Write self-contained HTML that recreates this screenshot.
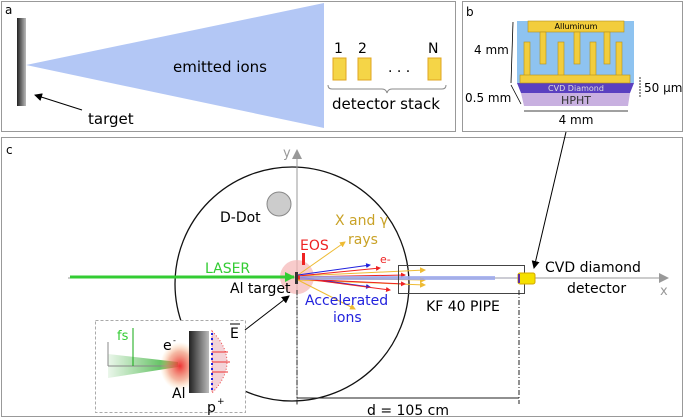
<!DOCTYPE html>
<html><head><style>body{margin:0;background:#fff}svg{display:block}text{font-family:"DejaVu Sans","Liberation Sans",sans-serif}</style></head><body>
<svg width="685" height="418" viewBox="0 0 685 418" xmlns="http://www.w3.org/2000/svg">
<defs>
<linearGradient id="tg" x1="0" x2="1"><stop offset="0" stop-color="#222"/><stop offset="1" stop-color="#bbb"/></linearGradient>
<linearGradient id="lg" x1="0" x2="1"><stop offset="0" stop-color="#3a3" stop-opacity=".1"/><stop offset="1" stop-color="#2a2" stop-opacity=".9"/></linearGradient>
<radialGradient id="pl"><stop offset="0" stop-color="#e33"/><stop offset=".6" stop-color="#e86" stop-opacity=".6"/><stop offset="1" stop-color="#fc8" stop-opacity="0"/></radialGradient>
<marker id="ah" markerWidth="8" markerHeight="8" refX="7" refY="4" orient="auto" markerUnits="userSpaceOnUse"><path d="M0,0L8,4L0,8z" fill="#000"/></marker>
<marker id="ag" markerWidth="10" markerHeight="10" refX="9" refY="5" orient="auto" markerUnits="userSpaceOnUse"><path d="M0,0L10,5L0,10z" fill="#999"/></marker>
<marker id="al" markerWidth="10" markerHeight="10" refX="9" refY="5" orient="auto" markerUnits="userSpaceOnUse"><path d="M0,0L10,5L0,10z" fill="#3c3"/></marker>
<marker id="ao" markerWidth="6" markerHeight="6" refX="5" refY="3" orient="auto" markerUnits="userSpaceOnUse"><path d="M0,0L6,3L0,6z" fill="#eb3"/></marker>
<marker id="ar" markerWidth="5" markerHeight="5" refX="4" refY="2.5" orient="auto" markerUnits="userSpaceOnUse"><path d="M0,0L5,2.5L0,5z" fill="#e22"/></marker>
<marker id="ab" markerWidth="5" markerHeight="5" refX="4" refY="2.5" orient="auto" markerUnits="userSpaceOnUse"><path d="M0,0L5,2.5L0,5z" fill="#22d"/></marker>
</defs>
<!-- panel a -->
<rect x="1.5" y="1.5" width="454" height="130" fill="none" stroke="#999"/>
<text x="5" y="14" font-size="12">a</text>
<polygon points="26,65 324,3 324,128" fill="#b3c7f5"/>
<rect x="17" y="18" width="9" height="88" fill="url(#tg)"/>
<text x="220" y="72" font-size="15" text-anchor="middle">emitted ions</text>
<line x1="82" y1="110" x2="35" y2="95" stroke="#000" marker-end="url(#ah)"/>
<text x="88" y="124" font-size="15">target</text>
<g fill="#f5d547" stroke="#e0a520"><rect x="333" y="58" width="13" height="22"/><rect x="358" y="58" width="13" height="22"/><rect x="428" y="58" width="13" height="22"/></g>
<g font-size="14"><text x="334" y="53">1</text><text x="358" y="53">2</text><text x="428" y="53">N</text><text x="388" y="72">. . .</text></g>
<path d="M328,85 q0,4 4,4 h50 q4,0 5,4 q1,-4 5,-4 h50 q4,0 4,-4" fill="none" stroke="#888"/>
<text x="386" y="109" font-size="15" text-anchor="middle">detector stack</text>
<!-- panel b -->
<rect x="462.5" y="1.5" width="220" height="130" fill="none" stroke="#999"/>
<text x="466" y="16" font-size="12">b</text>
<rect x="517" y="21" width="117" height="62" fill="#8ec3f0"/>
<polygon points="517,83 634,83 630,93 521,93" fill="#5a40c0"/>
<polygon points="521,93 630,93 628,106 524,106" fill="#c8b0e0"/>
<g fill="#f2cd3c" stroke="#b39019" stroke-width=".6">
<rect x="528" y="21" width="96" height="11"/>
<rect x="540" y="32" width="6" height="32"/><rect x="574" y="32" width="6" height="32"/><rect x="604" y="32" width="6" height="32"/>
<rect x="524" y="42" width="6" height="34"/><rect x="558" y="42" width="6" height="34"/><rect x="590" y="42" width="6" height="34"/><rect x="616" y="42" width="6" height="34"/>
<rect x="520" y="75" width="110" height="8"/>
</g>
<text x="576" y="29" font-size="8" text-anchor="middle">Alluminum</text>
<text x="576" y="91" font-size="8" fill="#ddd" text-anchor="middle">CVD Diamond</text>
<text x="576" y="104" font-size="11" fill="#333" text-anchor="middle">HPHT</text>
<line x1="513" y1="22" x2="511" y2="83" stroke="#000" stroke-width=".8"/>
<text x="474" y="54" font-size="12">4 mm</text>
<line x1="511" y1="85" x2="521" y2="104" stroke="#000" stroke-width=".8"/>
<text x="465" y="102" font-size="12">0.5 mm</text>
<line x1="524" y1="111" x2="628" y2="111" stroke="#000" stroke-width=".8"/>
<text x="576" y="124" font-size="12" text-anchor="middle">4 mm</text>
<line x1="640" y1="77" x2="640" y2="98" stroke="#000" stroke-width=".8" stroke-dasharray="2,1"/>
<text x="644" y="92" font-size="12">50 µm</text>
<!-- panel c -->
<rect x="1.5" y="137.5" width="681" height="279" fill="none" stroke="#999"/>
<text x="6" y="154" font-size="12">c</text>
<circle cx="292" cy="284" r="117" fill="none" stroke="#111" stroke-width="1.3"/>
<circle cx="279" cy="204" r="12" fill="#ccc" stroke="#888"/>
<text x="220" y="222" font-size="14">D-Dot</text>
<line x1="297" y1="405" x2="297" y2="150" stroke="#999" marker-end="url(#ag)"/>
<text x="283" y="157" font-size="13" fill="#999">y</text>
<line x1="68" y1="278" x2="668" y2="278" stroke="#999" marker-end="url(#ag)"/>
<text x="660" y="295" font-size="13" fill="#999">x</text>
<circle cx="297" cy="277" r="17" fill="#f5b5b5" opacity=".7"/>
<line x1="70" y1="277" x2="294" y2="277" stroke="#3c3" stroke-width="3" marker-end="url(#al)"/>
<text x="205" y="273" font-size="14" fill="#3c3">LASER</text>
<text x="230" y="293" font-size="14">Al target</text>
<rect x="295" y="272" width="3" height="12" fill="#333"/>
<rect x="302" y="253" width="3" height="12" fill="#e22"/>
<text x="300" y="250" font-size="14" fill="#e22">EOS</text>
<text x="335" y="225" font-size="14" fill="#c9a227">X and γ</text>
<text x="348" y="244" font-size="14" fill="#c9a227">rays</text>
<text x="380" y="263" font-size="11" fill="#e22">e-</text>
<g stroke-width="1">
<line x1="298" y1="275" x2="345" y2="242" stroke="#eb3" marker-end="url(#ao)"/>
<line x1="298" y1="276" x2="425" y2="270" stroke="#eb3" marker-end="url(#ao)"/>
<line x1="298" y1="280" x2="425" y2="285" stroke="#eb3" marker-end="url(#ao)"/>
<line x1="298" y1="280" x2="355" y2="309" stroke="#eb3" marker-end="url(#ao)"/>
<line x1="298" y1="278" x2="425" y2="280" stroke="#eb3" marker-end="url(#ao)"/>
<line x1="298" y1="275" x2="370" y2="265" stroke="#22d" marker-end="url(#ab)"/>
<line x1="298" y1="277" x2="370" y2="287" stroke="#22d" marker-end="url(#ab)"/>
<line x1="298" y1="276" x2="380" y2="268" stroke="#e22" marker-end="url(#ar)"/>
<line x1="298" y1="277" x2="405" y2="275" stroke="#e22" marker-end="url(#ar)"/>
<line x1="298" y1="279" x2="405" y2="284" stroke="#e22" marker-end="url(#ar)"/>
<line x1="298" y1="278" x2="390" y2="290" stroke="#e22" marker-end="url(#ar)"/>
</g>
<rect x="300" y="276" width="195" height="4" fill="#9aa6ee" opacity=".8"/>
<line x1="495" y1="278" x2="518" y2="278" stroke="#99a" />
<rect x="398.5" y="265.5" width="126" height="28" fill="none" stroke="#444"/>
<rect x="518" y="273" width="17" height="11" rx="2" fill="#f5e000" stroke="#d4a800"/>
<rect x="518" y="274" width="2" height="9" fill="#6030a0"/>
<text x="305" y="305" font-size="14" fill="#22d">Accelerated</text>
<text x="333" y="322" font-size="14" fill="#22d">ions</text>
<text x="463" y="311" font-size="14" text-anchor="middle">KF 40 PIPE</text>
<text x="545" y="272" font-size="14">CVD diamond</text>
<text x="567" y="293" font-size="14">detector</text>
<line x1="566" y1="132" x2="534" y2="268" stroke="#000" marker-end="url(#ah)"/>
<line x1="297" y1="290" x2="297" y2="404" stroke="#222" stroke-dasharray="5,2,1,2"/>
<line x1="519" y1="290" x2="519" y2="404" stroke="#222" stroke-dasharray="5,2,1,2"/>
<line x1="297" y1="398" x2="519" y2="398" stroke="#222"/>
<text x="408" y="415" font-size="14" text-anchor="middle">d = 105 cm</text>
<!-- inset -->
<rect x="95.5" y="320.5" width="150" height="92" fill="#fff" stroke="#aaa" stroke-dasharray="3,2"/>
<line x1="245" y1="330" x2="289" y2="296" stroke="#000" marker-end="url(#ah)"/>
<polygon points="108,354 178,362 178,367 108,378" fill="url(#lg)"/>
<line x1="108" y1="366" x2="180" y2="366" stroke="#888"/>
<line x1="108" y1="342" x2="108" y2="366" stroke="#888"/>
<line x1="133" y1="328" x2="133" y2="366" stroke="#1a1"/>
<text x="117" y="340" font-size="13" fill="#3c3">fs</text>
<ellipse cx="180" cy="366" rx="20" ry="24" fill="url(#pl)"/>
<text x="163" y="350" font-size="14">e</text><text x="173" y="343" font-size="8">-</text>
<text x="172" y="398" font-size="14">Al</text>
<rect x="189" y="331" width="20" height="62" fill="url(#tg)"/>
<path d="M212,331 q30,31 0,62z" fill="#f3d3d8" stroke="#e44" stroke-dasharray="1,2"/>
<g stroke="#e33"><line x1="212" y1="352" x2="228" y2="352"/><line x1="212" y1="362" x2="230" y2="362"/><line x1="212" y1="372" x2="228" y2="372"/></g>
<line x1="212" y1="333" x2="212" y2="391" stroke="#22d" stroke-dasharray="2,3" stroke-width="2"/>
<text x="230" y="338" font-size="14">E</text><line x1="230" y1="324" x2="240" y2="324" stroke="#000"/>
<text x="207" y="412" font-size="14">p</text><text x="217" y="404" font-size="9">+</text>
</svg>
</body></html>
